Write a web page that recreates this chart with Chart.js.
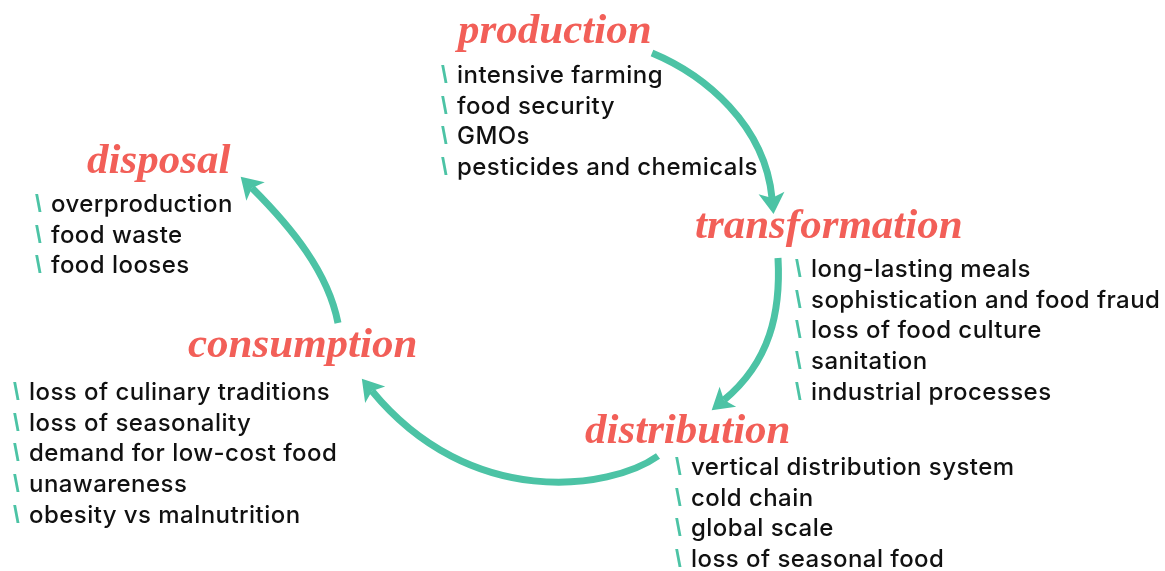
<!DOCTYPE html>
<html>
<head>
<meta charset="utf-8">
<script src="https://cdn.jsdelivr.net/npm/chart.js@4.4.1/dist/chart.umd.min.js"></script>
<style>
  html, body { margin: 0; padding: 0; background: #fff; }
  #wrap { width: 1165px; height: 571px; }
</style>
</head>
<body>
<div id="wrap"><canvas id="ciclo" width="1165" height="571"></canvas></div>
<script>
// stages of the food cycle and their issues
const stageNames = ['production', 'transformation', 'distribution', 'consumption', 'disposal'];
const productionIssues = ['intensive farming', 'food security', 'GMOs', 'pesticides and chemicals'];
const transformationIssues = ['long-lasting meals', 'sophistication and food fraud', 'loss of food culture', 'sanitation', 'industrial processes'];
const distributionIssues = ['vertical distribution system', 'cold chain', 'global scale', 'loss of seasonal food'];
const consumptionIssues = ['loss of culinary traditions', 'loss of seasonality', 'demand for low-cost food', 'unawareness', 'obesity vs malnutrition'];
const disposalIssues = ['overproduction', 'food waste', 'food looses'];

const stageIssues = [productionIssues, transformationIssues, distributionIssues, consumptionIssues, disposalIssues];

// layout (in axis units, 0..1165 x 0..571)
const layout = {
  titles: [[458, 43], [695, 238], [585, 443], [188, 357], [87, 173]],
  lists: [[441, 83], [795, 277], [675, 475], [13, 400], [35, 212]],
  lineGap: 30.7,
  textIndent: 16,
  // cubic curves: start, ctrl1, ctrl2, end (arrow head starts at end)
  arrows: [
    [[652, 53], [705, 75], [765, 125], [772, 198]],
    [[778, 258], [781, 312], [770, 362], [724, 400]],
    [[658, 456], [610, 490], [470, 510], [372, 391]],
    [[338, 323], [328, 272], [292, 228], [252, 188]]
  ]
};

const COL_TITLE = '#f25f58';
const COL_ARROW = '#4cc3a5';
const COL_TEXT = '#111111';

function drawSpaced(c, txt, x, y, spacing) {
  if ('letterSpacing' in c) {
    c.letterSpacing = spacing + 'px';
    c.fillText(txt, x, y);
    c.letterSpacing = '0px';
    return;
  }
  let cx = x;
  for (const ch of txt) {
    c.fillText(ch, cx, y);
    cx += c.measureText(ch).width + spacing;
  }
}

const diagramPlugin = {
  id: 'diagramma',
  afterDraw(chart) {
    const c = chart.ctx;
    const sx = chart.scales.x, sy = chart.scales.y;
    const px = v => sx.getPixelForValue(v);
    const py = v => sy.getPixelForValue(v);
    c.save();

    // arrows
    layout.arrows.forEach(a => {
      const p = a.map(pt => [px(pt[0]), py(pt[1])]);
      c.strokeStyle = COL_ARROW;
      c.lineWidth = 7;
      c.lineCap = 'butt';
      c.beginPath();
      c.moveTo(p[0][0], p[0][1]);
      c.bezierCurveTo(p[1][0], p[1][1], p[2][0], p[2][1], p[3][0], p[3][1]);
      c.stroke();

      // head
      let dx = p[3][0] - p[2][0], dy = p[3][1] - p[2][1];
      const len = Math.hypot(dx, dy);
      dx /= len; dy /= len;
      const nx = -dy, ny = dx;
      const hl = 19, hw = 13;
      const bx = p[3][0] - dx * 3, by = p[3][1] - dy * 3;
      c.fillStyle = COL_ARROW;
      c.beginPath();
      c.moveTo(bx + dx * hl, by + dy * hl);
      c.lineTo(bx + nx * hw - dx * 2, by + ny * hw - dy * 2);
      c.lineTo(bx + dx * 3, by + dy * 3);
      c.lineTo(bx - nx * hw - dx * 2, by - ny * hw - dy * 2);
      c.closePath();
      c.fill();
    });

    // titles
    c.textBaseline = 'alphabetic';
    c.textAlign = 'left';
    c.fillStyle = COL_TITLE;
    c.font = 'bold italic 43px "Liberation Serif"';
    stageNames.forEach((name, i) => {
      const t = layout.titles[i];
      c.fillText(name, px(t[0]), py(t[1]));
    });

    // issue lists
    stageIssues.forEach((items, i) => {
      const l = layout.lists[i];
      items.forEach((txt, j) => {
        const x = px(l[0]);
        const y = py(l[1] + j * layout.lineGap);
        c.fillStyle = COL_ARROW;
        c.font = '600 24px "Liberation Sans"';
        c.fillText('\\', x, y);
        c.fillStyle = COL_TEXT;
        c.font = '500 24px Inter';
        drawSpaced(c, txt, x + layout.textIndent, y, 0.45);
      });
    });

    c.restore();
  }
};

function init() {
  const ctx = document.getElementById('ciclo').getContext('2d');
  new Chart(ctx, {
    type: 'scatter',
    data: { datasets: [{ data: [], pointRadius: 0 }] },
    options: {
      responsive: false,
      animation: false,
      devicePixelRatio: 1,
      layout: { padding: 0 },
      scales: {
        x: { type: 'linear', min: 0, max: 1165, display: false },
        y: { type: 'linear', min: 0, max: 571, reverse: true, display: false }
      },
      plugins: {
        legend: { display: false },
        tooltip: { enabled: false }
      }
    },
    plugins: [diagramPlugin]
  });
}

document.addEventListener('DOMContentLoaded', init);
</script>
</body>
</html>
